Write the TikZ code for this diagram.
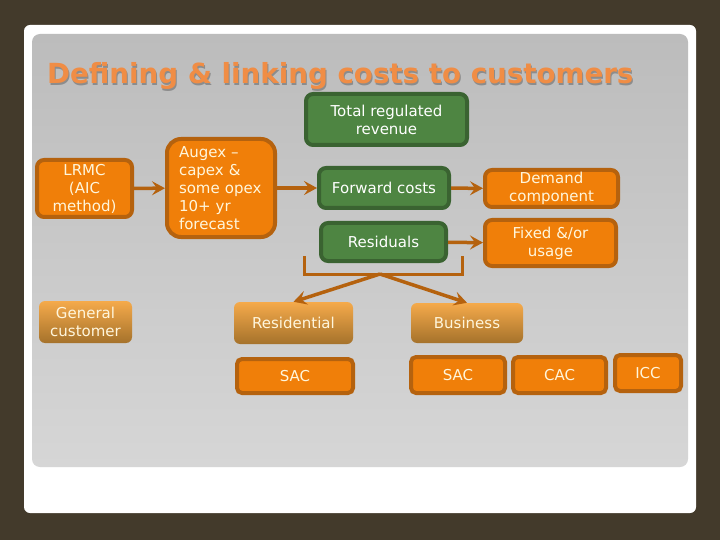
\documentclass[tikz,border=0pt]{standalone}
\usepackage{fontspec}
\setmainfont{DejaVu Sans}
\usetikzlibrary{arrows.meta}
\definecolor{slidebg}{HTML}{433A2B}
\definecolor{boxorange}{HTML}{F07F09}
\definecolor{edgeorange}{HTML}{B5620E}
\definecolor{boxgreen}{HTML}{4E8542}
\definecolor{edgegreen}{HTML}{3A6331}
\definecolor{titleorange}{HTML}{F08D45}
\definecolor{boxtext}{HTML}{FFF6DC}
\definecolor{fadetop}{HTML}{F5AA4B}
\definecolor{fadebottom}{HTML}{A5722B}
\definecolor{panelfrom}{HTML}{BCBCBC}
\definecolor{panelto}{HTML}{D6D6D6}
\tikzset{
  label font/.style={font=\fontsize{15}{18}\selectfont,text=boxtext,align=center,inner sep=0pt},
  orangebox/.style={label font,draw=edgeorange,fill=boxorange,line width=4pt,rounded corners=7pt},
  greenbox/.style={label font,text=white,draw=edgegreen,fill=boxgreen,line width=4pt,rounded corners=7pt},
  fadebox/.style={label font,top color=fadetop,bottom color=fadebottom,rounded corners=6pt},
  flow/.style={draw=edgeorange,line width=3.5pt,-{Stealth[length=13pt,width=14pt,inset=5pt]}},
}
\begin{document}
\begin{tikzpicture}[x=1pt,y=-1pt]
\fill[slidebg] (0,0) rectangle (720,540);
\fill[white,rounded corners=6pt] (24,25) rectangle (696,513);
\shade[rounded corners=8pt,shading angle=150,top color=panelfrom,bottom color=panelto] (32,34) rectangle (688,467);
% title
\node[font=\fontsize{27.7}{30}\selectfont\bfseries,text=gray!90!white,anchor=base west,inner sep=0pt] (titleshadow) at (48,85.5) {Defining \& linking costs to customers};
\node[font=\fontsize{27.7}{30}\selectfont\bfseries,text=titleorange,anchor=base west,inner sep=0pt] (title) at (47,84) {Defining \& linking costs to customers};
% left column
\node[orangebox,minimum width=95pt,minimum height=57pt] (lrmc) at (84.5,188.5) {LRMC\\(AIC\\method)};
\node[orangebox,minimum width=108pt,minimum height=98pt,rounded corners=14pt,text width=84pt,align=left] (augex) at (221,188) {Augex --\\capex \&\\some opex\\10+ yr\\forecast};
\node[fadebox,minimum width=93pt,minimum height=42pt] (general) at (85.5,322) {General\\customer};
% green boxes
\node[greenbox,minimum width=161pt,minimum height=51pt] (total) at (386.5,119.5) {Total regulated\\revenue};
\node[greenbox,minimum width=130pt,minimum height=40pt] (forward) at (384,188) {Forward costs};
\node[greenbox,minimum width=125pt,minimum height=38pt] (residuals) at (383.5,242) {Residuals};
% charge split
\node[orangebox,minimum width=133pt,minimum height=37pt] (demand) at (551.5,188.5) {Demand\\component};
\node[orangebox,minimum width=131pt,minimum height=46pt] (fixed) at (550.5,243) {Fixed \&/or\\usage};
% customers
\node[fadebox,minimum width=119pt,minimum height=42pt] (residential) at (293.5,323) {Residential};
\node[fadebox,minimum width=112pt,minimum height=40pt] (business) at (467,323) {Business};
\node[orangebox,minimum width=116pt,minimum height=34pt,rounded corners=5pt] (sacres) at (295,376) {SAC};
\node[orangebox,minimum width=94pt,minimum height=36pt,rounded corners=5pt] (sacbus) at (458,375) {SAC};
\node[orangebox,minimum width=93pt,minimum height=36pt,rounded corners=5pt] (cac) at (559.5,375) {CAC};
\node[orangebox,minimum width=66pt,minimum height=36pt,rounded corners=5pt] (icc) at (648,373) {ICC};
% connectors
\coordinate (bracketl) at (304,256);
\coordinate (bracketm) at (380,274);
\coordinate (bracketr) at (462,256);
\foreach \from/\to in {lrmc/augex,augex/forward,forward/demand,residuals/fixed,bracketm/residential.north,bracketm/business.north}
\draw[flow] (\from) -- (\to);
\draw[edgeorange,line width=3pt] (bracketl) -- (bracketl|-bracketm) -- (bracketr|-bracketm) -- (bracketr);
\end{tikzpicture}
\end{document}
